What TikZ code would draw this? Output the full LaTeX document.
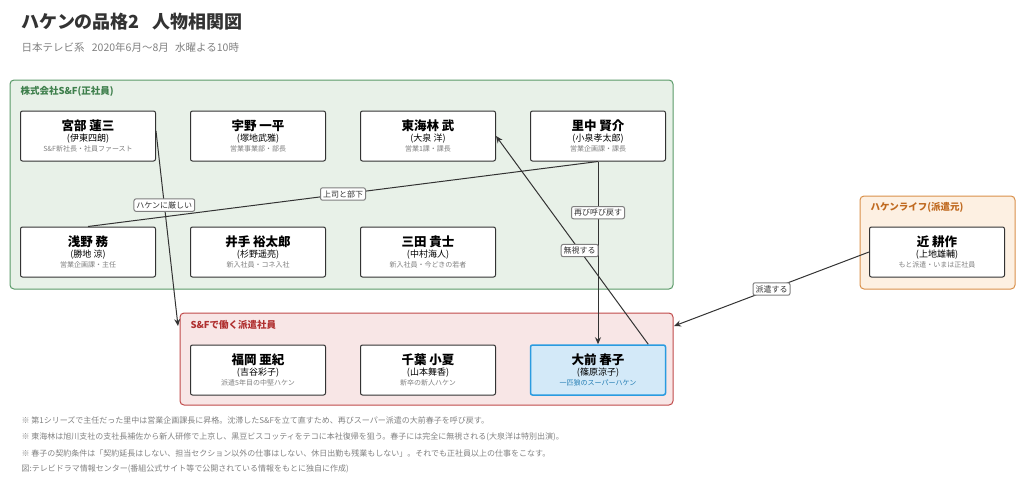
\documentclass[tikz,border=0pt]{standalone}
\usepackage{fontspec}
\setmainfont{Noto Sans CJK JP}
\usetikzlibrary{arrows.meta}
\definecolor{gfill}{HTML}{E8F1E8}\definecolor{gdraw}{HTML}{5A9A68}\definecolor{gtext}{HTML}{3E7F4C}
\definecolor{ofill}{HTML}{FDF0E2}\definecolor{odraw}{HTML}{D9904A}\definecolor{otext}{HTML}{C06A20}
\definecolor{rfill}{HTML}{F8E6E6}\definecolor{rdraw}{HTML}{C04A4A}\definecolor{rtext}{HTML}{B03030}
\definecolor{bfill}{HTML}{D3E9F8}\definecolor{bdraw}{HTML}{2A9BE0}
\definecolor{dark}{HTML}{333333}
\begin{document}
\begin{tikzpicture}[x=1pt,y=-1pt,
 grp/.style={draw=#1,line width=1pt,rounded corners=4pt},
 per/.style={draw=dark,fill=white,line width=1pt,rounded corners=2pt,minimum width=135pt,minimum height=50pt,align=center,inner sep=0pt},
 lab/.style={draw=gray,fill=white,rounded corners=2pt,font=\fontsize{8}{9}\selectfont,text=dark,inner sep=2.5pt},
 con/.style={draw=dark,line width=1pt},
 arr/.style={con,-{Stealth[length=7pt,width=6pt]}},
 note/.style={anchor=west,font=\fontsize{8}{9}\selectfont,text=gray}]
\useasboundingbox (0,0) rectangle (1024,491);
\node[anchor=west,font=\fontsize{18}{21}\selectfont\bfseries,text=dark] (t) at (18,22) {ハケンの品格2\hspace{0.7em}人物相関図};
\node[anchor=west,font=\fontsize{10.5}{12}\selectfont,text=gray] (st) at (18,47) {日本テレビ系\hspace{0.7em}2020年6月〜8月\hspace{0.6em}水曜よる10時};
\path[grp=gdraw,fill=gfill] (10,80) rectangle (673,289);
\node[anchor=west,font=\fontsize{9.5}{11}\selectfont\bfseries,text=gtext] (g1) at (17,91) {株式会社S\&F(正社員)};
\path[grp=odraw,fill=ofill] (860,196) rectangle (1015,289);
\node[anchor=west,font=\fontsize{9.5}{11}\selectfont\bfseries,text=otext] (g2) at (867,207) {ハケンライフ(派遣元)};
\path[grp=rdraw,fill=rfill] (180,313) rectangle (673,405);
\node[anchor=west,font=\fontsize{9.5}{11}\selectfont\bfseries,text=rtext] (g3) at (187,325) {S\&Fで働く派遣社員};
\newcommand{\pp}[3]{{\fontsize{12.5}{16}\selectfont\bfseries #1}\\[-1pt]{\fontsize{9}{12}\selectfont (#2)}\\[-2pt]{\fontsize{7}{9}\selectfont\color{gray}#3}}
\node[per] (miyabe) at (88,136) {\pp{宮部 蓮三}{伊東四朗}{S\&F新社長・社員ファースト}};
\node[per] (uno) at (258,136) {\pp{宇野 一平}{塚地武雅}{営業事業部・部長}};
\node[per] (tokai) at (428,136) {\pp{東海林 武}{大泉 洋}{営業1課・課長}};
\node[per] (satonaka) at (598,136) {\pp{里中 賢介}{小泉孝太郎}{営業企画課・課長}};
\node[per] (asano) at (88,252) {\pp{浅野 務}{勝地 涼}{営業企画課・主任}};
\node[per] (ide) at (258,252) {\pp{井手 裕太郎}{杉野遥亮}{新入社員・コネ入社}};
\node[per] (mita) at (428,252) {\pp{三田 貴士}{中村海人}{新入社員・今どきの若者}};
\node[per] (kon) at (937,252) {\pp{近 耕作}{上地雄輔}{もと派遣・いまは正社員}};
\node[per] (fukuoka) at (258,370) {\pp{福岡 亜紀}{吉谷彩子}{派遣5年目の中堅ハケン}};
\node[per] (chiba) at (428,370) {\pp{千葉 小夏}{山本舞香}{新卒の新人ハケン}};
\node[per,draw=bdraw,fill=bfill,line width=1.5pt] (omae) at (598,370) {\pp{大前 春子}{篠原涼子}{\color{bdraw!80!black}一匹狼のスーパーハケン}};
\coordinate (rtop) at (178,326);
\coordinate (rright) at (674,326);
\draw[arr] (miyabe.east) ++(0,-5) coordinate (ms) -- (rtop) node[lab,pos=0.38] {ハケンに厳しい};
\draw[con] (satonaka.south) -- (asano.north) node[lab,pos=0.5] {上司と部下};
\draw[arr] (satonaka.south) -- (omae.north) node[lab,pos=0.28] {再び呼び戻す};
\draw[arr] (omae.north east) ++(-18,0) coordinate (os) -- (tokai.east) node[lab,pos=0.45] {無視する};
\draw[arr] (kon.west) -- (rright) node[lab,pos=0.5] {派遣する};
\node[note] (n1) at (18,420) {※ 第1シリーズで主任だった里中は営業企画課長に昇格。沈滞したS\&Fを立て直すため、再びスーパー派遣の大前春子を呼び戻す。};
\node[note] (n2) at (18,437) {※ 東海林は旭川支社の支社長補佐から新人研修で上京し、黒豆ビスコッティをテコに本社復帰を狙う。春子には完全に無視される(大泉洋は特別出演)。};
\node[note] (n3) at (18,453) {※ 春子の契約条件は「契約延長はしない、担当セクション以外の仕事はしない、休日出勤も残業もしない」。それでも正社員以上の仕事をこなす。};
\node[note] (n4) at (18,469) {図:テレビドラマ情報センター(番組公式サイト等で公開されている情報をもとに独自に作成)};
\end{tikzpicture}
\end{document}
